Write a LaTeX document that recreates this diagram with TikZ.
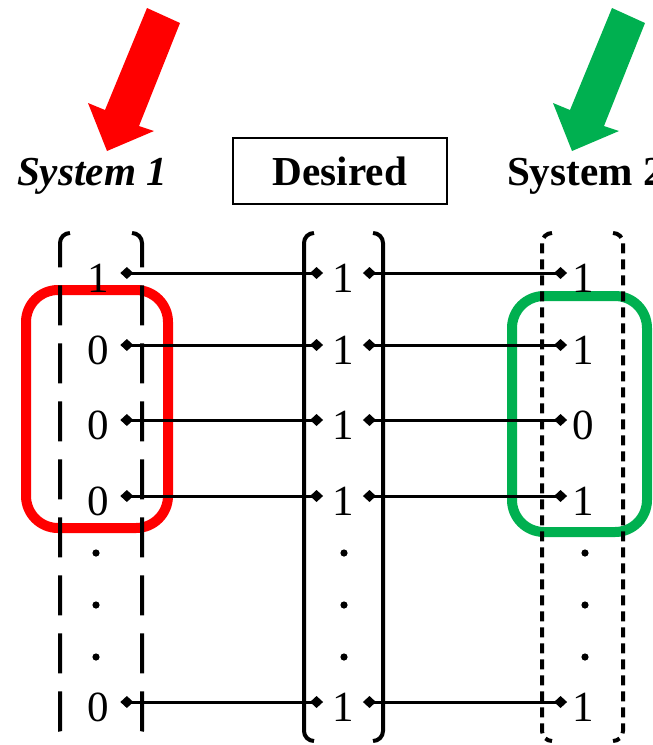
\documentclass[tikz,border=0pt]{standalone}
\usepackage{fontspec}
\setmainfont{Liberation Serif}
\usetikzlibrary{arrows.meta}

\begin{document}
\begin{tikzpicture}[x=0.5pt,y=-0.5pt,
	elem/.style={font=\fontsize{21.5pt}{24pt}\selectfont, inner ysep=0pt, text height=19pt, text depth=0pt},
	link/.style={line width=1.5pt, {Diamond[length=6.5pt,width=6pt]}-{Diamond[length=6.5pt,width=6pt]}},
	brace/.style={line width=2pt, rounded corners=5pt},
	longdash/.style={dash pattern=on 20pt off 9pt},
	shortdash/.style={dash pattern=on 5pt off 3pt},
	title/.style={font=\fontsize{20.6pt}{24pt}\selectfont\bfseries}]
\colorlet{BAD}{red}
\definecolor{GOOD}{RGB}{0,176,80}

\useasboundingbox (0,0) rectangle (653,745);
\clip (0,0) rectangle (653,745);

% Pointers
\foreach \dx/\f in {0/BAD,465/GOOD}{
	\fill[\f] (147+\dx,8) -- (180+\dx,23) -- (139+\dx,126) -- (154+\dx,131)
		-- (107+\dx,151) -- (88+\dx,103) -- (105+\dx,110) -- cycle;
}

% Headings
\node[title, anchor=base] (sys1) at (92,185) {\itshape System 1};
\node[title, draw, line width=0.8pt, minimum width=107pt, minimum height=33pt] (want) at (340,171) {Desired};
\node[title, anchor=base west] (sys2) at (500,185) {System 2};

% Highlighted entries
\draw[BAD, line width=5pt, rounded corners=16pt] (26,290) rectangle (168,528);
\draw[GOOD, line width=5pt, rounded corners=16pt] (512,296) rectangle (647,532);

% Vector brackets
\foreach \l/\r/\s in {60/142/longdash,304/383/solid,542/623/shortdash}{
	\draw[brace,\s] (\l+10,233) -- (\l,233) -- (\l,741) -- (\l+10,741);
	\draw[brace,\s] (\r-10,233) -- (\r,233) -- (\r,741) -- (\r-10,741);
}

% Entries and links
\foreach \n/\y/\a/\b in {1/273/1/1,2/345/0/1,3/420/0/0,4/496/0/1,5/702/0/1}{
	\node[elem, inner xsep=5.6pt] (s1r\n) at (98,\y) {\a};
	\node[elem, inner xsep=4.4pt] (dr\n) at (343,\y) {1};
	\node[elem, inner xsep=2.4pt] (s2r\n) at (583,\y) {\b};
	\draw[link] (s1r\n) -- (dr\n);
	\draw[link] (dr\n) -- (s2r\n);
}

% Vertical dots
\foreach \y in {553,605,657}{
\foreach \x in {96,344,585}{
	\fill (\x,\y) circle (1.8pt);
}
}

\end{tikzpicture}
\end{document}
